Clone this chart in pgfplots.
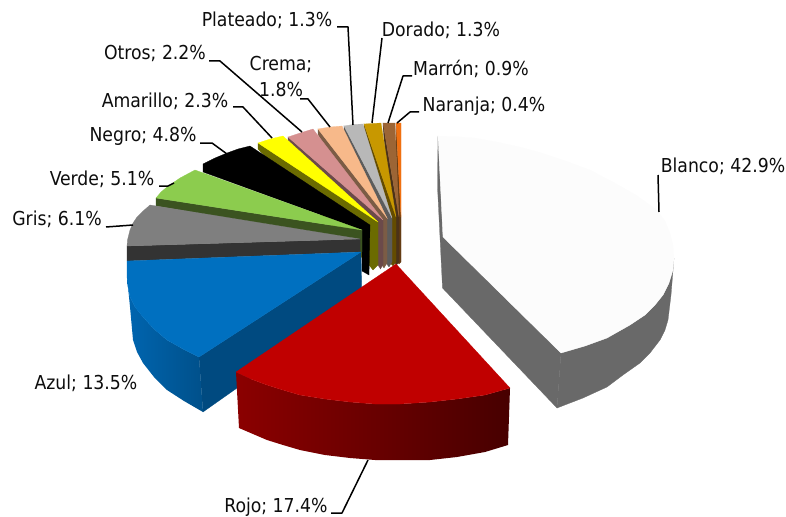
\documentclass[border=0pt]{standalone}
\usepackage{pgfplots}
\pgfplotsset{compat=1.18}
\usepackage{fontspec}
\setmainfont{DejaVu Sans Condensed}
\definecolor{ra}{RGB}{139,0,0}
\definecolor{rb}{RGB}{100,0,0}
\definecolor{rc}{RGB}{71,0,0}
\definecolor{ba}{RGB}{0,101,176}
\definecolor{bb}{RGB}{0,92,158}
\definecolor{bc}{RGB}{0,80,138}
\newcommand\poly[2]{\addplot[fill={rgb,255:#1},draw={rgb,255:#1},line width=.25pt] coordinates {#2} --cycle;}
\newcommand\shpoly[4]{\addplot[draw=none,left color=#1,middle color=#2,right color=#3] coordinates {#4} --cycle;}
\newcommand\lead[1]{\addplot[black,line width=1.5pt,line join=round] coordinates {#1};}
\newcommand\lab[2]{\node[anchor=base,font=\fontsize{19.2}{22}\selectfont,text=black!95,inner sep=0pt,align=center] at (axis cs:#1) {#2};}
\begin{document}
\begin{tikzpicture}
\begin{axis}[scale only axis,width=786pt,height=516pt,xmin=0,xmax=786,ymin=0,ymax=516,y dir=reverse,hide axis,clip=false]
\path (axis cs:0,0) -- (axis cs:786,516);
% Naranja
\poly{red,100;green,60;blue,20}{(396,123)(401,217)(401,262)(399,264)(397,262)}
\poly{red,240;green,112;blue,16}{(396,123)(401,123)(401,217)}
% Marron
\poly{red,75;green,50;blue,25}{(383,123)(399,217)(399,262)(396.5,265)(394,262)(383,126)}
\poly{red,156;green,101;blue,53}{(383,123)(395,123)(399,217)}
% Dorado
\poly{red,100;green,76;blue,0}{(364,124)(396,217)(396,262)(393,266)(390,263)(364,128)}
\poly{red,200;green,152;blue,0}{(364,124)(381,123)(396,217)}
% Plateado
\poly{red,92;green,92;blue,92}{(344,126)(392,218)(392,262)(389,267)(386,263)(344,130)}
\poly{red,184;green,184;blue,184}{(344,126)(353,124.5)(363,124)(392,218)}
% Crema
\poly{red,123;green,92;blue,69}{(318,129)(387,218)(387,263)(384,268)(381,264)(318,134)}
\poly{red,247;green,185;blue,138}{(318,129)(330,127)(342,126)(387,218)}
% Otros
\poly{red,107;green,74;blue,74}{(288,137)(383,220)(383,264)(380.5,269)(378,265)(288,142)}
\poly{red,213;green,144;blue,144}{(288,137)(300,133)(313,129)(383,220)}
% Amarillo
\poly{red,107;green,107;blue,0}{(258,143)(378,222)(378,265)(373,270)(369,265)(258,149)}
\poly{red,255;green,255;blue,0}{(258,143)(270,139)(283,136)(378,222)}
% Negro
\poly{red,0;green,0;blue,0}{(203,164)(203,172)(362,230)(362,271)(369,275)(370,225)(250,146)(238,149)(227,153)(215,158)}
% Verde
\poly{red,59;green,83;blue,32}{(156,198)(156,206)(357,240)(357,252)(362,252)(362,230)}
\poly{red,140;green,204;blue,78}{(156,198)(161,192)(167,187)(180,178)(195,170)(362,230)}
% Gris
\poly{red,51;green,51;blue,51}{(127,246)(127,261)(360,252)(360,239)}
\poly{red,127;green,127;blue,127}{(127,246)(127.5,240)(130,230)(133,223)(137,217)(142,212)(150,205)(360,239)}
% Azul
\poly{red,0;green,74;blue,128}{(361,252)(199,357)(203,412)(362,300)}
\shpoly{ba}{bb}{bc}{(127,277)(128,287)(130,297)(135,307)(143,317)(154,329)(167,340)(183,349)(199,357)(203,412)(184,401)(167,390)(154,377)(143,363)(137,352)(133,340)(130,307)}
\poly{red,0;green,112;blue,192}{(361,252)(127,261)(127,277)(128,287)(130,297)(135,307)(143,317)(154,329)(167,340)(183,349)(199,357)}
% Rojo
\shpoly{ra}{rb}{rc}{(236,372)(251,379)(267,385)(283,390)(300,395)(325,399)(350,402)(375,404)(400,404)(430,402)(457,399)(485,395)(510,388)(508,445)(485,452)(457,457)(430,460)(400,460)(375,460)(350,458)(325,455)(300,450)(283,445)(267,440)(253,434)(239,428)}
\poly{red,192;green,0;blue,0}{(396,264)(236,372)(251,379)(267,385)(283,390)(300,395)(325,399)(350,402)(375,404)(400,404)(430,402)(457,399)(485,395)(510,388)}
% Blanco
\poly{red,105;green,105;blue,105}{(438,136)(437.5,187)(442.5,288)(557,408)(561,353)(443,237)}
\poly{red,105;green,105;blue,105}{(674,258)(671,295)(668,320)(665,330)(660,340)(650,353)(640,363)(623,375)(607,387)(583,398)(557,408)(561,353)(585,346)(607,338)(630,325)(645,315)(655,305)(663,295)(669,283)(673,270)}
\poly{red,252;green,252;blue,252}{(438,136)(455,136.5)(475,138)(497,142)(520,147)(542,153)(563,160)(590,170)(613,182)(636,195)(657,210)(665,221)(670,233)(673,245)(674,258)(673,270)(669,283)(663,295)(655,305)(645,315)(630,325)(607,338)(585,346)(561,353)(443,237)}
% Leaders
\lead{(337,27)(348,27)(353,125)}
\lead{(382,38)(372,123)}
\lead{(412,76)(403,76)(388,123)}
\lead{(419,112)(410,112)(397,123)}
\lead{(658,175)(659,212)}
\lead{(368,460)(342,513)(331,513)}
\lead{(106,227)(133,225)}
\lead{(159,186)(168,186)(174,183)}
\lead{(200,143)(212,143)(227,154)}
\lead{(233,107)(243,107)(272,138)}
\lead{(209,61)(220,61)(302,132)}
\lead{(300,99)(308,99)(330,127)}
% Labels
\lab{267,27}{Plateado; 1.3\%}
\lab{441,37}{Dorado; 1.3\%}
\lab{471,76}{Marrón; 0.9\%}
\lab{484,111}{Naranja; 0.4\%}
\lab{723,172}{Blanco; 42.9\%}
\lab{276,512}{Rojo; 17.4\%}
\lab{86,389}{Azul; 13.5\%}
\lab{57,225}{Gris; 6.1\%}
\lab{102,185}{Verde; 5.1\%}
\lab{143,141}{Negro; 4.8\%}
\lab{165,108}{Amarillo; 2.3\%}
\lab{155,60}{Otros; 2.2\%}
\lab{281,71}{Crema;}
\lab{281,96}{1.8\%}
\end{axis}
\end{tikzpicture}
\end{document}
